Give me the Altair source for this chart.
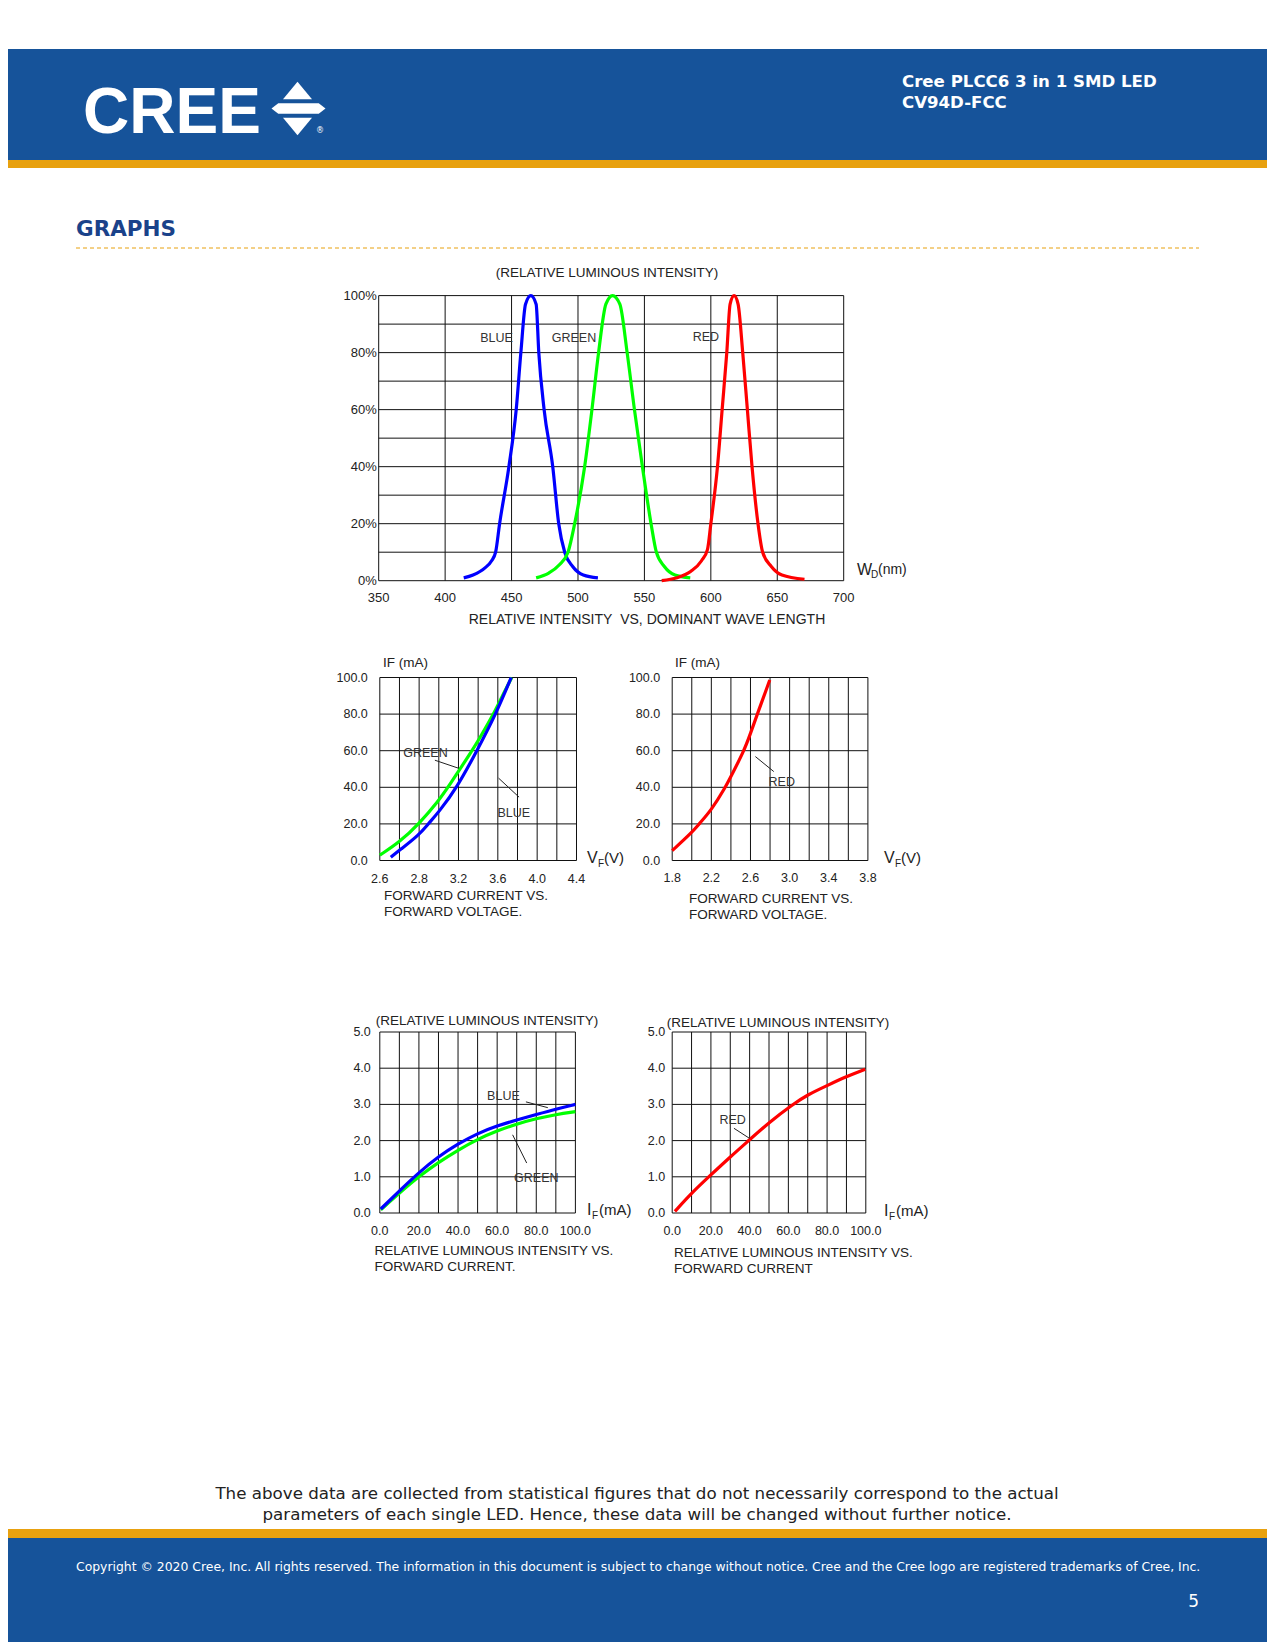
import altair as alt
import pandas as pd

OFF = 8                      # page margin of the html body
FONT = "Liberation Sans"     # drawing (CAD-like) lettering
UIFONT = "DejaVu Sans"       # page lettering (Verdana-like)
INK = "#222222"
NAVY = "#16539A"
GOLD = "#E8A10F"
TITLE_BLUE = "#1A428A"

SERIES = ["BLUE", "GREEN", "RED"]
SERIES_COLORS = ["#0000ff", "#00ff00", "#ff0000"]

# ---------------- data: relative intensity vs dominant wavelength ----------------
BLUE_WL = [414, 421, 430, 435, 438, 441, 448, 453.5, 457, 460.5, 464.5, 468.5, 470.5, 474.5, 481, 485.5, 490, 496, 504, 515]
BLUE_REL = [1, 2, 4.5, 7, 10, 20, 40, 60, 80, 97, 100, 97, 80, 60, 40, 20, 10, 5, 2, 1]
GREEN_WL = [468.5, 478, 486, 492.5, 497.5, 505, 510.5, 515.5, 521, 526, 531.5, 537, 542.5, 548.5, 555, 559, 565, 573, 584.5]
GREEN_REL = [1, 2.7, 5.6, 10, 20, 40, 60, 80, 97, 100, 97, 80, 60, 40, 20, 10, 5, 2, 1]
RED_WL = [563, 574.5, 585, 593, 597.5, 600, 605, 608.5, 612, 614.5, 617.5, 620.5, 624, 627.5, 631, 635.5, 639, 645.5, 653.5, 670.5]
RED_REL = [0, 1, 3.3, 7, 11, 20, 40, 60, 80, 97, 100, 97, 80, 60, 40, 20, 10, 5, 2, 0.5]
WL_TICKS = [350, 400, 450, 500, 550, 600, 650, 700]
WL_LABELS = ["350", "400", "450", "500", "550", "600", "650", "700"]
PCT_TICKS = [0, 20, 40, 60, 80, 100]
PCT_LABELS = ["0%", "20%", "40%", "60%", "80%", "100%"]

# ---------------- data: forward current vs forward voltage ----------------
GREEN_V = [2.40, 2.60, 2.798, 3.00, 3.094, 3.338, 3.40, 3.556, 3.60, 3.742]
GREEN_IF = [2.9, 10, 20, 32.8, 40, 60, 65.4, 80, 85, 100]
BLUE_V = [2.512, 2.60, 2.80, 2.892, 3.00, 3.186, 3.388, 3.58, 3.736]
BLUE_IF = [1.8, 5.6, 14, 20, 26.5, 40, 60, 80, 100]
RED_V = [1.80, 2.00, 2.075, 2.20, 2.344, 2.40, 2.535, 2.60, 2.67, 2.797]
RED_IF = [5.4, 15.2, 20, 27.5, 40, 45.9, 60, 69.4, 80, 98.6]
VF_BG_TICKS = [2.4, 2.8, 3.2, 3.6, 4.0, 4.4]
VF_BG_LABELS = ["2.6", "2.8", "3.2", "3.6", "4.0", "4.4"]
VF_R_TICKS = [1.8, 2.2, 2.6, 3.0, 3.4, 3.8]
VF_R_LABELS = ["1.8", "2.2", "2.6", "3.0", "3.4", "3.8"]
IF_TICKS = [0, 20, 40, 60, 80, 100]
IF_LABELS = ["0.0", "20.0", "40.0", "60.0", "80.0", "100.0"]

# ---------------- data: relative luminous intensity vs forward current ----------------
LB_IF = [0.5, 10, 20, 30, 40, 50, 60, 70, 80, 90, 100]
LB_REL = [0.11, 0.61, 1.12, 1.56, 1.91, 2.2, 2.41, 2.57, 2.72, 2.87, 3.0]
LG_IF = [0.5, 10, 20, 30, 40, 50, 60, 70, 80, 90, 100]
LG_REL = [0.09, 0.55, 1.01, 1.4, 1.74, 2.04, 2.27, 2.46, 2.61, 2.72, 2.8]
LR_IF = [1.4, 10, 18.9, 30, 39.5, 50, 62.3, 70, 80, 90, 99.7]
LR_REL = [0.045, 0.55, 1.0, 1.55, 2.0, 2.5, 3.0, 3.27, 3.52, 3.77, 3.97]
REL_TICKS = [0, 1, 2, 3, 4, 5]
REL_LABELS = ["0.0", "1.0", "2.0", "3.0", "4.0", "5.0"]

ONE = pd.DataFrame({"a": [0]})


def curves(pairs):
    rows = []
    for name, xs, ys in pairs:
        for i, (a, b) in enumerate(zip(xs, ys)):
            rows.append({"series": name, "x": a, "y": b, "i": i})
    return pd.DataFrame(rows)


def panel(box, xdom, ydom, xgrid, ygrid, xticks, xlabels, yticks, ylabels,
          data, labels, leaders, xdy, ydx, tick_size=12.5, interp="basis"):
    x0, x1, y0, y1 = box
    xs = alt.Scale(domain=xdom, range=[x0 - OFF, x1 - OFF], nice=False, zero=False)
    ys = alt.Scale(domain=ydom, range=[y1 - OFF, y0 - OFF], nice=False, zero=False)

    def X(f):
        return alt.X(f, type="quantitative", scale=xs, axis=None)

    def Y(f):
        return alt.Y(f, type="quantitative", scale=ys, axis=None)

    layers = []
    vg = pd.DataFrame({"x": xgrid, "y": ydom[0], "y2": ydom[1]})
    layers.append(alt.Chart(vg).mark_rule(color="#111111", strokeWidth=1).encode(
        x=X("x"), y=Y("y"), y2="y2:Q"))
    hg = pd.DataFrame({"y": ygrid, "x": xdom[0], "x2": xdom[1]})
    layers.append(alt.Chart(hg).mark_rule(color="#111111", strokeWidth=1).encode(
        y=Y("y"), x=X("x"), x2="x2:Q"))
    layers.append(alt.Chart(data).mark_line(strokeWidth=3.2, interpolate=interp).encode(
        x=X("x"), y=Y("y"),
        color=alt.Color("series:N", scale=alt.Scale(domain=SERIES, range=SERIES_COLORS), legend=None),
        order="i:Q"))
    if leaders is not None:
        layers.append(alt.Chart(leaders).mark_rule(color=INK, strokeWidth=1).encode(
            x=X("x"), y=Y("y"), x2="x2:Q", y2="y2:Q"))
    layers.append(alt.Chart(labels).mark_text(font=FONT, fontSize=12.5, color="#333333",
                                              align="center", baseline="middle").encode(
        x=X("x"), y=Y("y"), text="t:N"))
    xt = pd.DataFrame({"v": xticks, "t": xlabels})
    layers.append(alt.Chart(xt).mark_text(font=FONT, fontSize=tick_size, color=INK, align="center",
                                          baseline="middle", dy=xdy).encode(
        x=X("v"), y=alt.YDatum(ydom[0], type="quantitative", scale=ys, axis=None), text="t:N"))
    yt = pd.DataFrame({"v": yticks, "t": ylabels})
    layers.append(alt.Chart(yt).mark_text(font=FONT, fontSize=tick_size, color=INK, align="right",
                                          baseline="middle", dx=ydx).encode(
        y=Y("v"), x=alt.XDatum(xdom[0], type="quantitative", scale=xs, axis=None), text="t:N"))
    return alt.layer(*layers)


def txt(s, x, y, size=13.5, align="left", font=FONT, color=INK, weight="normal", baseline="middle"):
    return alt.Chart(ONE).mark_text(text=s, align=align, baseline=baseline, font=font, fontSize=size,
                                    color=color, fontWeight=weight).encode(
        x=alt.value(x - OFF), y=alt.value(y - OFF))


def rect(x0, y0, x1, y1, color):
    return alt.Chart(ONE).mark_rect(color=color).encode(
        x=alt.value(x0 - OFF), x2=alt.value(x1 - OFF), y=alt.value(y0 - OFF), y2=alt.value(y1 - OFF))


def symbol(path, x, y, size):
    return alt.Chart(ONE).mark_point(shape=path, filled=True, color="white", opacity=1,
                                     size=size, strokeWidth=0).encode(
        x=alt.value(x - OFF), y=alt.value(y - OFF))


layers = []
# ---------------- page header ----------------
layers.append(rect(0, 49, 1275, 160, NAVY))
layers.append(rect(0, 160, 1275, 168, GOLD))
layers.append(txt("CREE", 83, 133, size=64, font=FONT, color="white", weight="bold", baseline="alphabetic"))
layers.append(symbol("M -1 0.6 L 0 -0.6 L 1 0.6 Z", 297.5, 90.5, 841))
layers.append(symbol("M -1 0 L -0.75 -0.19 L 0.75 -0.19 L 1 0 L 0.75 0.19 L -0.75 0.19 Z", 298.5, 108.5, 2916))
layers.append(symbol("M -1 -0.6 L 1 -0.6 L 0 0.6 Z", 297.5, 126.5, 841))
layers.append(txt("®", 316, 131, size=8, font=UIFONT, color="white"))
layers.append(txt("Cree PLCC6 3 in 1 SMD LED", 902, 82, size=16.6, font=UIFONT, color="white", weight="bold"))
layers.append(txt("CV94D-FCC", 902, 103, size=16.6, font=UIFONT, color="white", weight="bold"))
layers.append(txt("GRAPHS", 76, 230, size=21.5, font=UIFONT, color=TITLE_BLUE, weight="bold"))
layers.append(alt.Chart(ONE).mark_rule(color=GOLD, strokeWidth=1, strokeDash=[4, 3]).encode(
    x=alt.value(76 - OFF), x2=alt.value(1199 - OFF), y=alt.value(248 - OFF)))

# ---------------- panel A: relative intensity vs wavelength ----------------
pa = panel((378.7, 843.7, 295.6, 580.7), [350, 700], [0, 100],
           list(range(350, 701, 50)), list(range(0, 101, 10)),
           WL_TICKS, WL_LABELS, PCT_TICKS, PCT_LABELS,
           curves([("BLUE", BLUE_WL, BLUE_REL), ("GREEN", GREEN_WL, GREEN_REL), ("RED", RED_WL, RED_REL)]),
           pd.DataFrame({"x": [438.7, 497, 596.3], "y": [85, 85, 85.6], "t": ["BLUE", "GREEN", "RED"]}),
           None, 17.5, -2, tick_size=13, interp="monotone")
layers.append(pa)
layers.append(txt("(RELATIVE LUMINOUS INTENSITY)", 607, 272.5, align="center"))
layers.append(txt("RELATIVE INTENSITY\u00a0 VS, DOMINANT WAVE LENGTH", 647, 620, size=14, align="center"))
layers.append(txt("W", 857, 570, size=16))
layers.append(txt("D", 871, 575, size=10))
layers.append(txt("(nm)", 878, 570, size=14))

# ---------------- panel B: IF vs VF (blue / green) ----------------
pb = panel((379.8, 576.5, 677.5, 860.5), [2.4, 4.4], [0, 100],
           [round(2.4 + 0.2 * k, 2) for k in range(11)], list(range(0, 101, 20)),
           VF_BG_TICKS, VF_BG_LABELS, IF_TICKS, IF_LABELS,
           curves([("GREEN", GREEN_V, GREEN_IF), ("BLUE", BLUE_V, BLUE_IF)]),
           pd.DataFrame({"x": [2.864, 3.762], "y": [58.8, 26], "t": ["GREEN", "BLUE"]}),
           pd.DataFrame({"x": [2.96, 3.608], "y": [54.8, 45], "x2": [3.202, 3.816], "y2": [50.4, 34.6]}),
           18, -12)
layers.append(pb)
layers.append(txt("IF (mA)", 383, 663, size=13.5))
layers.append(txt("V", 587, 858, size=16))
layers.append(txt("F", 598, 864, size=10))
layers.append(txt("(V)", 604, 858, size=15))
layers.append(txt("FORWARD CURRENT VS.", 384, 896))
layers.append(txt("FORWARD VOLTAGE.", 384, 912))

# ---------------- panel C: IF vs VF (red) ----------------
pc = panel((672.2, 867.9, 677.5, 860.5), [1.8, 3.8], [0, 100],
           [round(1.8 + 0.2 * k, 2) for k in range(11)], list(range(0, 101, 20)),
           VF_R_TICKS, VF_R_LABELS, IF_TICKS, IF_LABELS,
           curves([("RED", RED_V, RED_IF)]),
           pd.DataFrame({"x": [2.92], "y": [42.9], "t": ["RED"]}),
           pd.DataFrame({"x": [2.65], "y": [56.8], "x2": [2.838], "y2": [48.6]}),
           17, -12)
layers.append(pc)
layers.append(txt("IF (mA)", 675, 663, size=13.5))
layers.append(txt("V", 884, 858, size=16))
layers.append(txt("F", 895, 864, size=10))
layers.append(txt("(V)", 901, 858, size=15))
layers.append(txt("FORWARD CURRENT VS.", 689, 899))
layers.append(txt("FORWARD VOLTAGE.", 689, 915))

# ---------------- panel D: relative luminous intensity vs IF (blue / green) ----------------
pdd = panel((379.8, 575.4, 1032, 1213), [0, 100], [0, 5],
            list(range(0, 101, 10)), list(range(0, 6)),
            IF_TICKS, IF_LABELS, REL_TICKS, REL_LABELS,
            curves([("GREEN", LG_IF, LG_REL), ("BLUE", LB_IF, LB_REL)]),
            pd.DataFrame({"x": [63.2, 80], "y": [3.24, 0.98], "t": ["BLUE", "GREEN"]}),
            pd.DataFrame({"x": [74.7, 67.9], "y": [3.07, 2.16], "x2": [85.9, 75.1], "y2": [2.91, 1.38]}),
            18, -9)
layers.append(pdd)
layers.append(txt("(RELATIVE LUMINOUS INTENSITY)", 487, 1020.5, align="center"))
layers.append(txt("I", 587, 1210, size=16))
layers.append(txt("F", 592, 1216, size=10))
layers.append(txt("(mA)", 599, 1210, size=15))
layers.append(txt("RELATIVE LUMINOUS INTENSITY VS.", 374.5, 1251))
layers.append(txt("FORWARD CURRENT.", 374.5, 1266.5))

# ---------------- panel E: relative luminous intensity vs IF (red) ----------------
pe = panel((672.2, 865.8, 1032, 1213), [0, 100], [0, 5],
           list(range(0, 101, 10)), list(range(0, 6)),
           IF_TICKS, IF_LABELS, REL_TICKS, REL_LABELS,
           curves([("RED", LR_IF, LR_REL)]),
           pd.DataFrame({"x": [31.2], "y": [2.57], "t": ["RED"]}),
           pd.DataFrame({"x": [31.9], "y": [2.34], "x2": [40], "y2": [2.06]}),
           18, -7)
layers.append(pe)
layers.append(txt("(RELATIVE LUMINOUS INTENSITY)", 778, 1022.5, align="center"))
layers.append(txt("I", 884, 1211, size=16))
layers.append(txt("F", 889, 1217, size=10))
layers.append(txt("(mA)", 896, 1211, size=15))
layers.append(txt("RELATIVE LUMINOUS INTENSITY VS.", 674, 1253))
layers.append(txt("FORWARD CURRENT", 674, 1269))

# ---------------- page footer ----------------
layers.append(txt("The above data are collected from statistical figures that do not necessarily correspond to the actual",
                  637, 1494, size=16.7, font=UIFONT, align="center", color="#222222"))
layers.append(txt("parameters of each single LED. Hence, these data will be changed without further notice.",
                  637, 1515, size=16.7, font=UIFONT, align="center", color="#222222"))
layers.append(rect(0, 1529, 1275, 1538, GOLD))
layers.append(rect(0, 1538, 1275, 1650, NAVY))
layers.append(txt("Copyright © 2020 Cree, Inc. All rights reserved. The information in this document is subject to change without notice. Cree and the Cree logo are registered trademarks of Cree, Inc.",
                  76, 1566.5, size=12.4, font=UIFONT, color="white"))
layers.append(txt("5", 1199, 1602, size=17, font=UIFONT, color="white", align="right"))

chart = alt.layer(*layers).resolve_scale(x="independent", y="independent").properties(
    width=1259, height=1634, padding=0, autosize=alt.AutoSizeParams(type="none")
).configure_view(stroke=None)

chart.save("out.html", embed_options={"renderer": "svg", "actions": False})
